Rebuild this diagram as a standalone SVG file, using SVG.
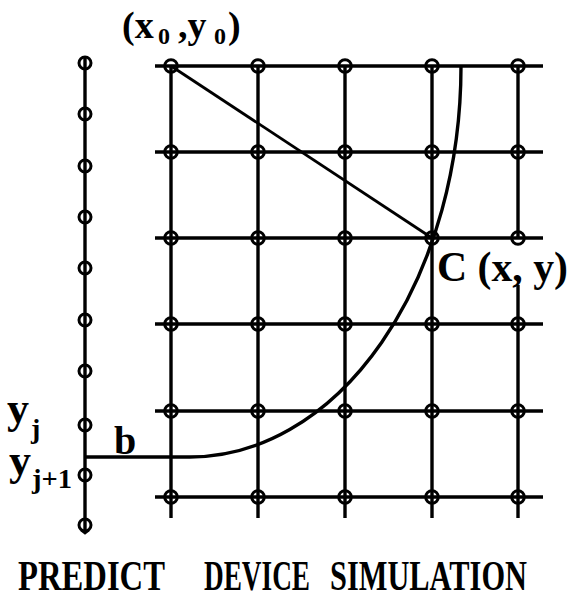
<svg xmlns="http://www.w3.org/2000/svg" width="570" height="600" viewBox="0 0 570 600">
<defs>
<style>
.ln{stroke:#000;stroke-width:3.4;fill:none;stroke-linecap:butt}
.thin{stroke:#000;stroke-width:2.8;fill:none}
.nd{stroke:#000;stroke-width:3;fill:none}
.t{font-family:"Liberation Serif","Times New Roman",serif;font-weight:bold;fill:#000}
</style>
<circle id="gn" r="6.3" class="nd"/>
<circle id="pn" r="6" class="nd"/>
</defs>
<rect width="570" height="600" fill="#fff"/>

<g id="predict-line">
<line class="ln" x1="85" y1="57" x2="85" y2="532"/>
<path class="thin" d="M81 530 L85 533 L89 530"/>
</g>

<g id="grid">
<line class="ln" x1="155" y1="66" x2="543" y2="66"/>
<line class="ln" x1="155" y1="152" x2="543" y2="152"/>
<line class="ln" x1="155" y1="238" x2="543" y2="238"/>
<line class="ln" x1="155" y1="324" x2="543" y2="324"/>
<line class="ln" x1="155" y1="411" x2="543" y2="411"/>
<line class="ln" x1="155" y1="497" x2="543" y2="497"/>
<line class="ln" x1="171" y1="66" x2="171" y2="518"/>
<line class="ln" x1="258" y1="66" x2="258" y2="518"/>
<line class="ln" x1="345" y1="66" x2="345" y2="518"/>
<line class="ln" x1="432" y1="66" x2="432" y2="518"/>
<line class="ln" x1="518" y1="66" x2="518" y2="238"/>
<line class="ln" x1="518" y1="285" x2="518" y2="518"/>
</g>

<g id="connectors">
<line class="thin" x1="171" y1="66" x2="432" y2="238"/>
<path class="ln" d="M461 66 A271 391 0 0 1 190 457 L86 457"/>
</g>

<g id="predict-nodes">
<use href="#pn" x="85" y="63"/>
<use href="#pn" x="85" y="114"/>
<use href="#pn" x="85" y="166"/>
<use href="#pn" x="85" y="217"/>
<use href="#pn" x="85" y="268"/>
<use href="#pn" x="85" y="320"/>
<use href="#pn" x="85" y="371"/>
<use href="#pn" x="85" y="425"/>
<use href="#pn" x="85" y="475"/>
<use href="#pn" x="85" y="525"/>
</g>

<g id="grid-nodes">
<use href="#gn" x="171" y="66"/><use href="#gn" x="258" y="66"/><use href="#gn" x="345" y="66"/><use href="#gn" x="432" y="66"/><use href="#gn" x="518" y="66"/>
<use href="#gn" x="171" y="152"/><use href="#gn" x="258" y="152"/><use href="#gn" x="345" y="152"/><use href="#gn" x="432" y="152"/><use href="#gn" x="518" y="152"/>
<use href="#gn" x="171" y="238"/><use href="#gn" x="258" y="238"/><use href="#gn" x="345" y="238"/><use href="#gn" x="432" y="238"/><use href="#gn" x="518" y="238"/>
<use href="#gn" x="171" y="324"/><use href="#gn" x="258" y="324"/><use href="#gn" x="345" y="324"/><use href="#gn" x="432" y="324"/><use href="#gn" x="518" y="324"/>
<use href="#gn" x="171" y="411"/><use href="#gn" x="258" y="411"/><use href="#gn" x="345" y="411"/><use href="#gn" x="432" y="411"/><use href="#gn" x="518" y="411"/>
<use href="#gn" x="171" y="497"/><use href="#gn" x="258" y="497"/><use href="#gn" x="345" y="497"/><use href="#gn" x="432" y="497"/><use href="#gn" x="518" y="497"/>
</g>

<g id="labels">
<text class="t" font-size="38" y="38"><tspan x="122">(x</tspan><tspan font-size="24" x="158" y="44">0</tspan><tspan x="178" y="38">,y</tspan><tspan font-size="24" x="214" y="44">0</tspan><tspan x="228" y="38">)</tspan></text>
<text class="t" font-size="42" x="437" y="281" textLength="131" lengthAdjust="spacingAndGlyphs">C (x, y)</text>
<text class="t" font-size="44" x="7" y="423">y</text>
<text class="t" font-size="28" x="31" y="438">j</text>
<text class="t" font-size="44" x="9" y="475">y</text>
<text class="t" font-size="28" x="32" y="488" textLength="40" lengthAdjust="spacingAndGlyphs">j+1</text>
<text class="t" font-size="40" x="114" y="454">b</text>
<g transform="translate(0,590) scale(1,1.65)">
<text class="t" font-size="26" x="18" y="0" textLength="147" lengthAdjust="spacingAndGlyphs">PREDICT</text>
<text class="t" font-size="26" x="204" y="0" textLength="106" lengthAdjust="spacingAndGlyphs">DEVICE</text>
<text class="t" font-size="26" x="330" y="0" textLength="197" lengthAdjust="spacingAndGlyphs">SIMULATION</text>
</g>
</g>
</svg>
